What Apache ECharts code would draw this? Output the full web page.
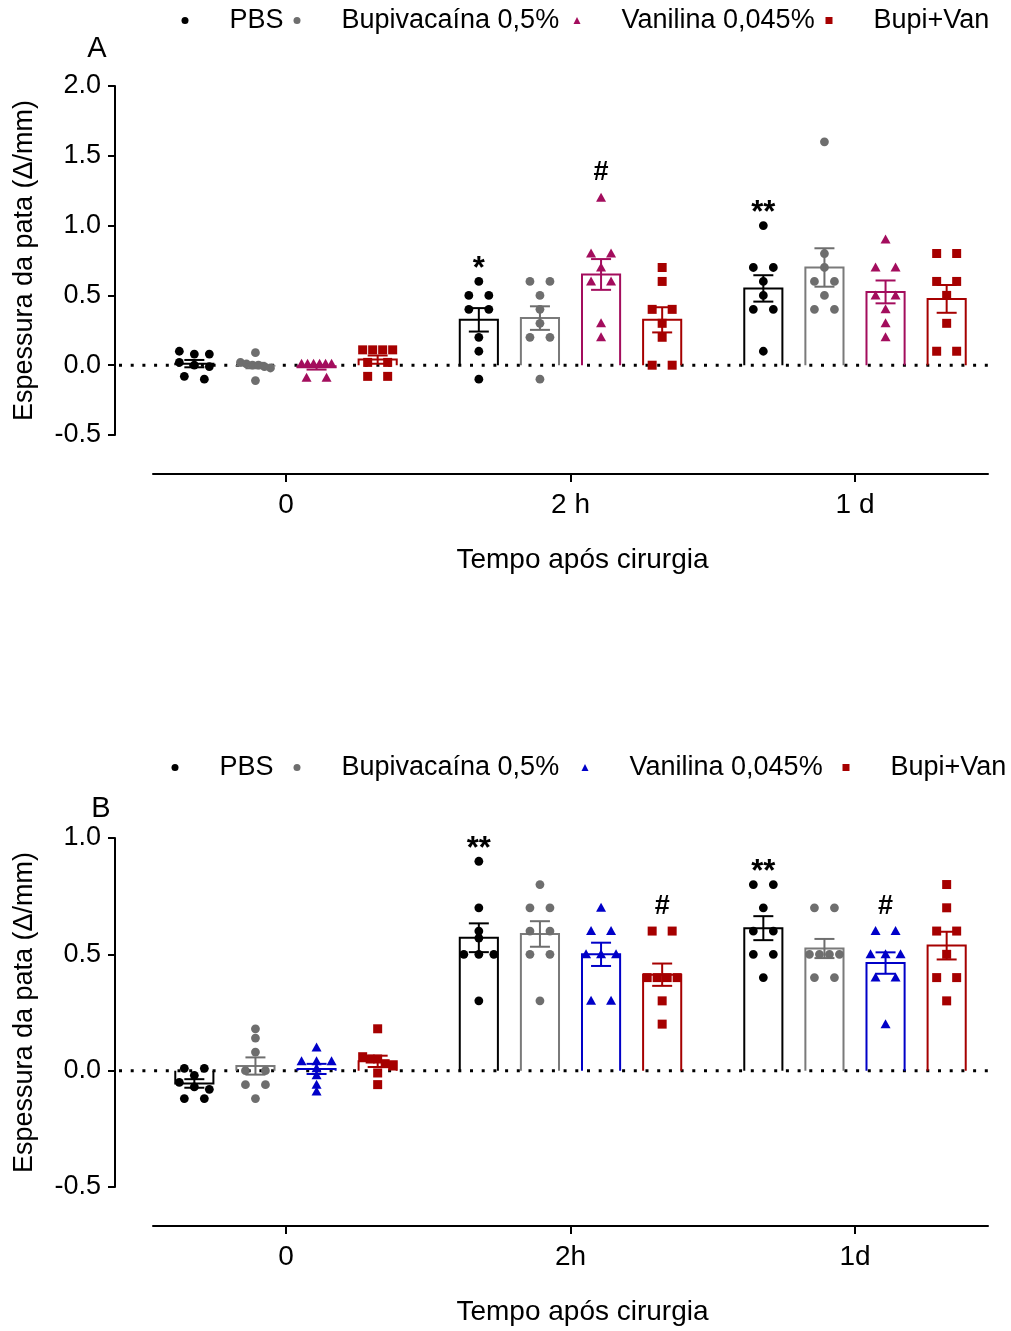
<!DOCTYPE html>
<html>
<head>
<meta charset="utf-8">
<script src="https://cdn.jsdelivr.net/npm/echarts@6/dist/echarts.min.js"></script>
<style>
  html, body { margin: 0; padding: 0; background: #fff; }
  #chartA { position: absolute; left: 0; top: 0; width: 1011px; height: 665px; }
  #chartB { position: absolute; left: 0; top: 665px; width: 1011px; height: 666px; }
</style>
</head>
<body>
<div id="chartA"></div>
<div id="chartB"></div>
<script>
// ---- groups and axis labels ----
const groups = ['PBS', 'Bupivacaína 0,5%', 'Vanilina 0,045%', 'Bupi+Van'];
const timeLabelsA = ['0', '2 h', '1 d'];
const timeLabelsB = ['0', '2h', '1d'];

// ---- Panel A: paw thickness change (Δ/mm), one array per time point (0, 2 h, 1 d) ----
const pbsA = [
  [0.10, 0.08, 0.08, 0.02, 0.00, -0.01, -0.08, -0.10],
  [0.60, 0.50, 0.50, 0.40, 0.40, 0.20, 0.10, -0.10],
  [1.00, 0.70, 0.70, 0.60, 0.50, 0.40, 0.40, 0.10]
];
const bupiA = [
  [0.09, 0.02, 0.01, 0.00, 0.00, -0.01, -0.02, -0.11],
  [0.60, 0.60, 0.50, 0.40, 0.30, 0.20, 0.20, -0.10],
  [1.60, 0.80, 0.70, 0.60, 0.60, 0.50, 0.40, 0.40]
];
const vanA = [
  [0.01, 0.01, 0.01, 0.01, 0.01, 0.01, -0.09, -0.09],
  [1.20, 0.80, 0.80, 0.70, 0.60, 0.60, 0.30, 0.20],
  [0.90, 0.70, 0.70, 0.50, 0.50, 0.40, 0.30, 0.20]
];
const bvA = [
  [0.11, 0.11, 0.11, 0.11, 0.02, 0.02, -0.08, -0.08],
  [0.70, 0.60, 0.40, 0.40, 0.30, 0.20, 0.00, 0.00],
  [0.80, 0.80, 0.60, 0.60, 0.50, 0.30, 0.10, 0.10]
];
// significance marks above each bar (0, 2 h, 1 d)
const annPbsA = ['', '*', '**'];
const annBupiA = ['', '', ''];
const annVanA = ['', '#', ''];
const annBvA = ['', '', ''];

// ---- Panel B ----
const pbsB = [
  [0.01, 0.01, -0.02, -0.05, -0.07, -0.08, -0.12, -0.12],
  [0.90, 0.70, 0.60, 0.57, 0.50, 0.50, 0.50, 0.30],
  [0.80, 0.80, 0.70, 0.60, 0.60, 0.50, 0.50, 0.40]
];
const bupiB = [
  [0.18, 0.14, 0.08, 0.00, 0.00, -0.06, -0.06, -0.12],
  [0.80, 0.70, 0.70, 0.60, 0.60, 0.50, 0.50, 0.30],
  [0.70, 0.70, 0.50, 0.50, 0.50, 0.50, 0.40, 0.40]
];
const vanB = [
  [0.10, 0.04, 0.04, 0.04, 0.01, -0.02, -0.06, -0.09],
  [0.70, 0.60, 0.60, 0.50, 0.50, 0.50, 0.30, 0.30],
  [0.60, 0.60, 0.50, 0.50, 0.50, 0.40, 0.40, 0.20]
];
const bvB = [
  [0.18, 0.06, 0.05, 0.05, 0.03, 0.02, -0.01, -0.06],
  [0.60, 0.60, 0.40, 0.40, 0.40, 0.40, 0.30, 0.20],
  [0.80, 0.70, 0.60, 0.60, 0.50, 0.40, 0.40, 0.30]
];
const annPbsB = ['', '**', '**'];
const annBupiB = ['', '', ''];
const annVanB = ['', '', '#'];
const annBvB = ['', '#', ''];

// ---- styling ----
const FONT = '"Liberation Sans", Arial, sans-serif';
const symbols = ['circle', 'circle', 'triangle', 'rect'];
const colorsA = ['#000000', '#6e6e6e', '#a30d5d', '#a60000'];
const colorsB = ['#000000', '#6e6e6e', '#0000c8', '#a60000'];
const BAR_STEP = 0.2148;   // centre distance between neighbouring bars (axis units)
const BAR_W = 0.134;       // bar width (axis units)
const X_PAD = 0.4675;      // axis extension beyond first/last time point

function mean(v) { return v.reduce((a, b) => a + b, 0) / v.length; }
function sem(v) {
  const m = mean(v);
  const sd = Math.sqrt(v.reduce((a, x) => a + (x - m) * (x - m), 0) / (v.length - 1));
  return sd / Math.sqrt(v.length);
}

// spread points that sit at (nearly) the same height into a centred row
function swarmOffsets(ys) {
  const idx = ys.map((_, i) => i).sort((a, b) => ys[a] - ys[b]);
  const offs = new Array(ys.length).fill(0);
  let row = [idx[0]];
  const flush = () => {
    const m = row.length;
    const step = m > 1 ? Math.min(20, 30 / (m - 1)) : 0;
    row.forEach((id, j) => { offs[id] = (j - (m - 1) / 2) * step; });
  };
  for (let j = 1; j < idx.length; j++) {
    if (ys[idx[j]] - ys[row[row.length - 1]] < 6) row.push(idx[j]);
    else { flush(); row = [idx[j]]; }
  }
  flush();
  return offs;
}

function marker(shape, x, y, color) {
  if (shape === 'triangle') {
    return { type: 'polygon', shape: { points: [[x, y - 5], [x + 5, y + 4], [x - 5, y + 4]] }, style: { fill: color } };
  }
  if (shape === 'rect') {
    return { type: 'rect', shape: { x: x - 4.5, y: y - 4.5, width: 9, height: 9 }, style: { fill: color } };
  }
  return { type: 'circle', shape: { cx: x, cy: y, r: 4.4 }, style: { fill: color } };
}

function groupSeries(name, k, values, ann, color) {
  return {
    type: 'custom',
    name: name,
    clip: false,
    z: 3,
    itemStyle: { color: color },
    data: values.map((v, t) => [t, mean(v)]),
    renderItem(params, api) {
      const t = api.value(0);
      const vals = values[t];
      const m = mean(vals);
      const s = sem(vals);
      const cx = t + (k - 1.5) * BAR_STEP;
      const base = api.coord([cx - BAR_W / 2, 0]);
      const top = api.coord([cx + BAR_W / 2, m]);
      const xc = api.coord([cx, 0])[0];
      const children = [];
      // open bar (no bottom edge)
      children.push({
        type: 'polyline',
        shape: { points: [[base[0], base[1]], [base[0], top[1]], [top[0], top[1]], [top[0], base[1]]] },
        style: { stroke: k === 1 ? '#7a7a7a' : color, lineWidth: 2, fill: null }
      });
      // individual animals
      const ys = vals.map(v => api.coord([cx, v])[1]);
      const offs = swarmOffsets(ys);
      ys.forEach((y, i) => children.push(marker(symbols[k], xc + offs[i], y, color)));
      // mean ± SEM
      const yHi = api.coord([cx, m + s])[1];
      const yLo = api.coord([cx, m - s])[1];
      const es = { stroke: color, lineWidth: 2 };
      children.push({ type: 'line', shape: { x1: xc, y1: yHi, x2: xc, y2: yLo }, style: es });
      children.push({ type: 'line', shape: { x1: xc - 10, y1: yHi, x2: xc + 10, y2: yHi }, style: es });
      children.push({ type: 'line', shape: { x1: xc - 10, y1: yLo, x2: xc + 10, y2: yLo }, style: es });
      // significance mark
      if (ann[t]) {
        const yMax = Math.min.apply(null, ys);
        const hash = ann[t].indexOf('#') >= 0;
        children.push({
          type: 'text',
          style: {
            text: ann[t], x: xc, y: yMax - (hash ? 25 : 12), align: 'center', verticalAlign: 'middle',
            font: (hash ? 'bold 27px ' : 'bold 31px ') + FONT, fill: '#000'
          }
        });
      }
      return { type: 'group', children: children };
    }
  };
}

function buildOption(p) {
  const series = [{
    type: 'custom',
    name: 'zero',
    silent: true,
    clip: false,
    z: 1,
    data: [[0, 0]],
    renderItem(params, api) {
      const cs = params.coordSys;
      const y = api.coord([0, 0])[1];
      return {
        type: 'line',
        shape: { x1: cs.x - 34, y1: y, x2: cs.x + cs.width, y2: y },
        style: { stroke: '#000', lineWidth: 3, lineDash: [3, 8.7] }
      };
    }
  }];
  groups.forEach((g, k) => series.push(groupSeries(g, k, p.values[k], p.ann[k], p.colors[k])));

  return {
    animation: false,
    backgroundColor: '#fff',
    textStyle: { fontFamily: FONT, color: '#000' },
    legend: groups.map((g, i) => ({
      data: [{ name: g, icon: symbols[i] }],
      left: p.legendLeft[i],
      top: p.legendTop,
      padding: 0,
      itemWidth: 7,
      itemHeight: 7,
      selectedMode: false,
      textStyle: { fontSize: 27, color: '#000', fontFamily: FONT, padding: [0, 0, 0, 36] }
    })),
    graphic: [{
      type: 'text', x: p.letterPos[0], y: p.letterPos[1],
      style: { text: p.letter, font: '29px ' + FONT, fill: '#000', align: 'center', verticalAlign: 'middle' }
    }],
    grid: { left: 153, right: 23, top: p.gridTop, height: p.gridHeight },
    xAxis: {
      type: 'value',
      min: -X_PAD,
      max: 2 + X_PAD,
      offset: 39,
      axisLine: { show: true, onZero: false, lineStyle: { color: '#000', width: 2 } },
      axisTick: { show: true, length: 8, customValues: [0, 1, 2], lineStyle: { color: '#000', width: 2 } },
      axisLabel: {
        customValues: [0, 1, 2], formatter: v => p.timeLabels[Math.round(v)],
        fontSize: 28, color: '#000', margin: 17, fontFamily: FONT
      },
      splitLine: { show: false },
      name: 'Tempo após cirurgia',
      nameLocation: 'middle',
      nameGap: 72,
      nameTextStyle: { fontSize: 28, color: '#000', fontFamily: FONT, padding: [0, 0, 0, 24] }
    },
    yAxis: {
      type: 'value',
      min: -0.5,
      max: p.yMax,
      interval: 0.5,
      offset: 38,
      axisLine: { show: true, onZero: false, lineStyle: { color: '#000', width: 2 } },
      axisTick: { show: true, length: 7, lineStyle: { color: '#000', width: 2 } },
      axisLabel: { fontSize: 27, color: '#000', margin: 14, fontFamily: FONT, formatter: v => v.toFixed(1) },
      splitLine: { show: false },
      name: 'Espessura da pata (Δ/mm)',
      nameLocation: 'middle',
      nameGap: 77,
      nameTextStyle: { fontSize: 27, color: '#000', fontFamily: FONT }
    },
    series: series
  };
}

const chartA = echarts.init(document.getElementById('chartA'), null, { renderer: 'canvas' });
chartA.setOption(buildOption({
  values: [pbsA, bupiA, vanA, bvA],
  ann: [annPbsA, annBupiA, annVanA, annBvA],
  colors: colorsA,
  timeLabels: timeLabelsA,
  yMax: 2.0,
  gridTop: 86,
  gridHeight: 349,
  legendLeft: [181.5, 293.5, 573.5, 825.5],
  legendTop: 7,
  letter: 'A',
  letterPos: [97, 49]
}));

const chartB = echarts.init(document.getElementById('chartB'), null, { renderer: 'canvas' });
chartB.setOption(buildOption({
  values: [pbsB, bupiB, vanB, bvB],
  ann: [annPbsB, annBupiB, annVanB, annBvB],
  colors: colorsB,
  timeLabels: timeLabelsB,
  yMax: 1.0,
  gridTop: 173,
  gridHeight: 350,
  legendLeft: [171.5, 293.5, 581.5, 842.5],
  legendTop: 89,
  letter: 'B',
  letterPos: [101, 144]
}));
</script>
</body>
</html>
